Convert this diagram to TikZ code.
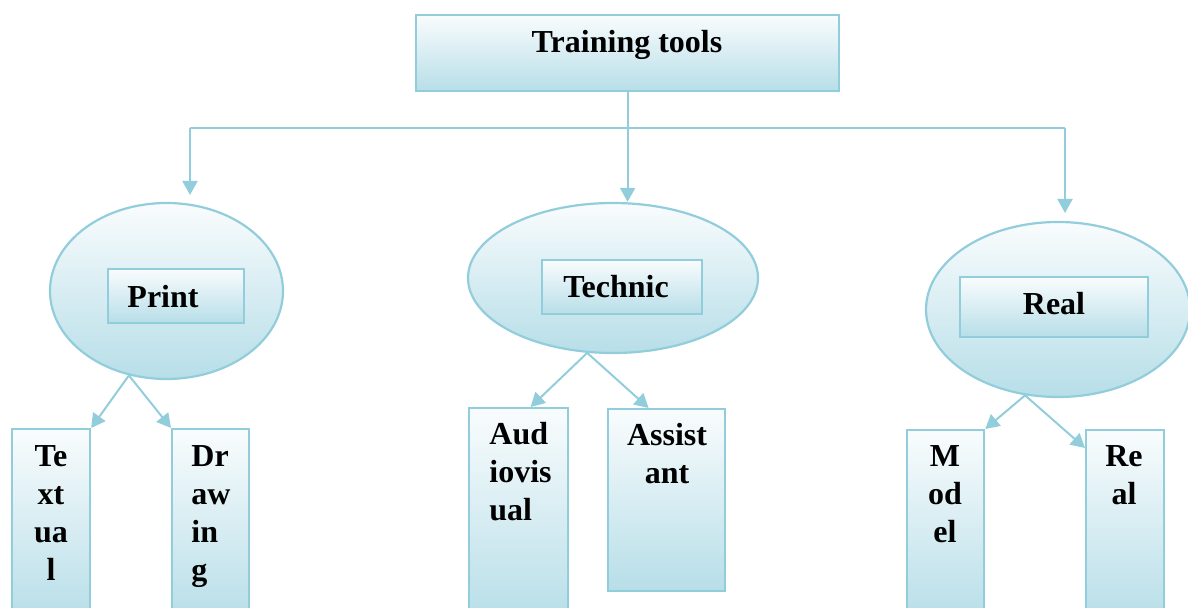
\documentclass[tikz,border=0pt]{standalone}
\usepackage{fontspec}
\setmainfont{Liberation Serif}
\usetikzlibrary{arrows.meta,shapes.geometric,calc}
\definecolor{edge}{RGB}{146,205,220}
\definecolor{ftop}{RGB}{249,252,253}
\definecolor{fbot}{RGB}{183,222,232}
\newcommand\stackc[1]{\vtop{\baselineskip=19pt\halign{\hfil##\hfil\cr#1\crcr}}}
\newcommand\stackl[1]{\vtop{\baselineskip=19pt\halign{##\hfil\cr#1\crcr}}}
\begin{document}
\begin{tikzpicture}[x=0.5pt,y=-0.5pt,
 box/.style={draw=edge,line width=1.1pt,top color=ftop,bottom color=fbot,inner sep=0,anchor=north west},
 ell/.style={ellipse,draw=edge,line width=1.1pt,top color=ftop,bottom color=fbot,inner sep=0},
 lbl/.style={font=\fontsize{16}{19}\selectfont\bfseries,inner sep=0,anchor=base},
 lbll/.style={lbl,anchor=base west},
 con/.style={draw=edge,line width=1pt},
 arr/.style={con,-{Triangle[length=7pt,width=7.5pt]}}]
\useasboundingbox (0,0) rectangle (1188,608);
\clip (0,0) rectangle (1188,608);

% top
\node[box,minimum width=211.5pt,minimum height=38pt] (top) at (415,14) {};
\node[lbl] (toptext) at (627,53) {Training tools};

% ellipses
\node[ell,minimum width=116.5pt,minimum height=88pt] (print) at (166.5,291) {};
\node[ell,minimum width=145pt,minimum height=75pt] (tech) at (613,278) {};
\node[ell,minimum width=132pt,minimum height=87.5pt] (real) at (1058,309.5) {};

\node[box,minimum width=68pt,minimum height=27pt] (printbox) at (107,268) {};
\node[box,minimum width=80pt,minimum height=27pt] (techbox) at (541,259) {};
\node[box,minimum width=94pt,minimum height=30pt] (realbox) at (959,276) {};
\node[lbl] (printtext) at (163,308) {Print};
\node[lbl] (techtext) at (616,298) {Technic};
\node[lbl] (realtext) at (1054,315) {Real};

% bottom boxes
\node[box,minimum width=39pt,minimum height=96pt] (textual) at (11,428) {};
\node[box,minimum width=38.5pt,minimum height=96pt] (drawing) at (171,428) {};
\node[box,minimum width=49.5pt,minimum height=106.5pt] (audio) at (468,407) {};
\node[box,minimum width=58.5pt,minimum height=91pt] (assist) at (607,408) {};
\node[box,minimum width=38.5pt,minimum height=95.5pt] (model) at (906,429) {};
\node[box,minimum width=39pt,minimum height=95.5pt] (real2) at (1085,429) {};

\node[lbl] (textualtext) at (51,467) {\stackc{Te\cr xt\cr ua\cr l}};
\node[lbll] (drawingtext) at (191,467) {\stackl{Dr\cr aw\cr in\cr g}};
\node[lbll] (audiotext) at (489,445) {\stackl{Aud\cr iovis\cr ual}};
\node[lbl] (assisttext) at (667,446) {\stackc{Assist\cr ant}};
\node[lbl] (modeltext) at (945,467) {\stackc{M\cr od\cr el}};
\node[lbl] (real2text) at (1124,467) {\stackc{Re\cr al}};

% connectors
\coordinate (j) at (top.south |- 0,128);
\coordinate (jl) at (190,128);
\coordinate (jr) at (1065,128);
\coordinate (pl) at (190,195);
\coordinate (pr) at (1065,213);
\draw[con] (top.south) -- (j);
\draw[con] (jl) -- (jr);
\draw[arr] (j) -- (j |- tech.north);
\draw[arr] (jl) -- (pl);
\draw[arr] (jr) -- (pr);

\draw[arr] (print.246) -- (textual.north east);
\draw[arr] (print.246) -- (drawing.north west);
\draw[arr] (tech.251) -- ([xshift=6pt]audio.north);
\draw[arr] (tech.251) -- ([xshift=-9pt]assist.north);
\draw[arr] (real.249) -- (model.north east);
\draw[arr] (real.249) -- ([yshift=-9.5pt]real2.north west);
\end{tikzpicture}
\end{document}
